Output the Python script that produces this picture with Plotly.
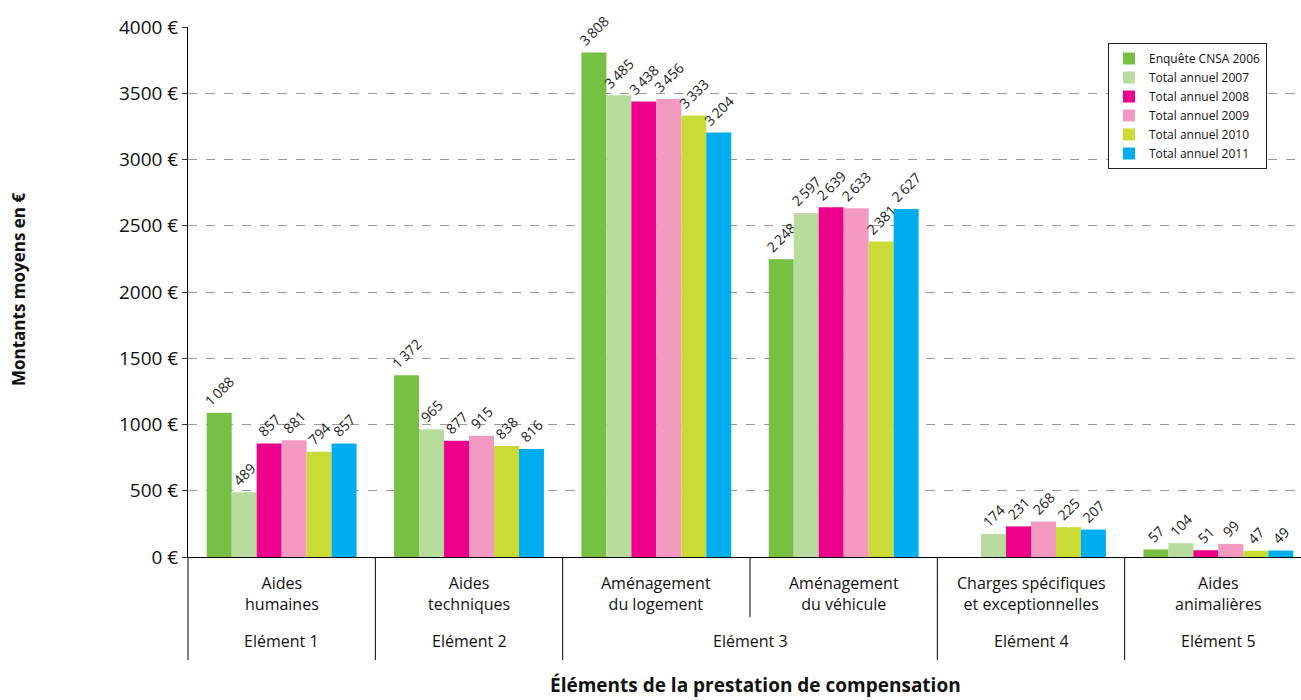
import plotly.graph_objects as go

# Categories of the compensation benefit
categories = ["Aides<br>humaines", "Aides<br>techniques", "Aménagement<br>du logement",
              "Aménagement<br>du véhicule", "Charges spécifiques<br>et exceptionnelles",
              "Aides<br>animalières"]
elements = ["Elément 1", "Elément 2", "Elément 3", "Elément 4", "Elément 5"]
element_centers = [0, 1, 2.5, 4, 5]

series_names = ["Enquête CNSA 2006", "Total annuel 2007", "Total annuel 2008",
                "Total annuel 2009", "Total annuel 2010", "Total annuel 2011"]
v2006 = [1088, 1372, 3808, 2248, None, 57]
v2007 = [489, 965, 3485, 2597, 174, 104]
v2008 = [857, 877, 3438, 2639, 231, 51]
v2009 = [881, 915, 3456, 2633, 268, 99]
v2010 = [794, 838, 3333, 2381, 225, 47]
v2011 = [857, 816, 3204, 2627, 207, 49]
series_values = [v2006, v2007, v2008, v2009, v2010, v2011]
colors = ["#76c043", "#b8dc9e", "#ec008c", "#f49ac1", "#cbdb35", "#00aeef"]

tick_vals = [0, 500, 1000, 1500, 2000, 2500, 3000, 3500, 4000]
tick_text = ["0 €", "500 €", "1000 €", "1500 €", "2000 €", "2500 €", "3000 €", "3500 €", "4000 €"]

FONT = "Open Sans, Noto Sans, sans-serif"


def fmt(v):
    if v is None:
        return ""
    s = str(v)
    return s[:-3] + "\u2009" + s[-3:] if v >= 1000 else s


fig = go.Figure()
x = list(range(len(categories)))
for name, vals, col in zip(series_names, series_values, colors):
    fig.add_trace(go.Bar(
        x=x, y=vals, name=name, marker_color=col,
        marker_line_width=0,
        text=[fmt(v) for v in vals], textposition="outside", textangle=-45,
        constraintext="none",
        textfont=dict(size=14, color="#1a1a1a", family=FONT),
        cliponaxis=False,
    ))

shapes = []
# Vertical separators of the category table below the axis
y_low = -103 / 530
y_mid = -60 / 530
shapes.append(dict(type="line", xref="paper", yref="paper", x0=0, x1=0, y0=y_low, y1=0,
                   line=dict(color="black", width=1)))
for sx in [0.5, 1.5, 3.5, 4.5]:
    shapes.append(dict(type="line", xref="x", yref="paper", x0=sx, x1=sx, y0=y_low, y1=0,
                       line=dict(color="black", width=1)))
shapes.append(dict(type="line", xref="x", yref="paper", x0=2.5, x1=2.5, y0=y_mid, y1=0,
                   line=dict(color="black", width=1)))

annotations = []
for i, c in enumerate(categories):
    annotations.append(dict(x=i, y=-36 / 530, xref="x", yref="paper", text=c, showarrow=False,
                            font=dict(size=16, color="#111", family=FONT), yanchor="middle"))
for xc, e in zip(element_centers, elements):
    annotations.append(dict(x=xc, y=-84 / 530, xref="x", yref="paper", text=e, showarrow=False,
                            font=dict(size=16, color="#111", family=FONT), yanchor="middle"))
annotations.append(dict(x=(755 - 188) / 1113, y=-128 / 530, xref="paper", yref="paper",
                        text="<b>Éléments de la prestation de compensation</b>", showarrow=False,
                        font=dict(size=19, color="#111", family=FONT), yanchor="middle"))
annotations.append(dict(x=-170 / 1113, y=(557 - 290) / 530, xref="paper", yref="paper",
                        text="<b>Montants moyens en €</b>", showarrow=False, textangle=-90,
                        font=dict(size=17, color="#111", family=FONT), xanchor="center"))

fig.update_layout(
    width=1301, height=700,
    margin=dict(l=188, r=0, t=27, b=143),
    paper_bgcolor="white", plot_bgcolor="white",
    barmode="group", bargap=0.2, bargroupgap=0,
    font=dict(family=FONT, color="#111"),
    showlegend=True,
    legend=dict(x=(1108 - 188) / 1113, y=(557 - 43) / 530, xanchor="left", yanchor="top",
                bgcolor="white", bordercolor="#222", borderwidth=1,
                font=dict(size=12, family=FONT), tracegroupgap=0, itemwidth=30),
    xaxis=dict(range=[-0.5, 5.5 - 11 / 187.3], showticklabels=False, ticks="",
               showgrid=False, showline=True, linecolor="black", linewidth=1, zeroline=False),
    yaxis=dict(range=[0, 4000], tickvals=tick_vals, ticktext=tick_text,
               tickfont=dict(size=19, family=FONT, color="#111"),
               ticks="outside", ticklen=5, tickcolor="#333",
               showgrid=True, gridcolor="#999", griddash="dash", gridwidth=1,
               showline=True, linecolor="black", linewidth=1, zeroline=False),
    shapes=shapes, annotations=annotations,
)

fig.write_html("out.html")
